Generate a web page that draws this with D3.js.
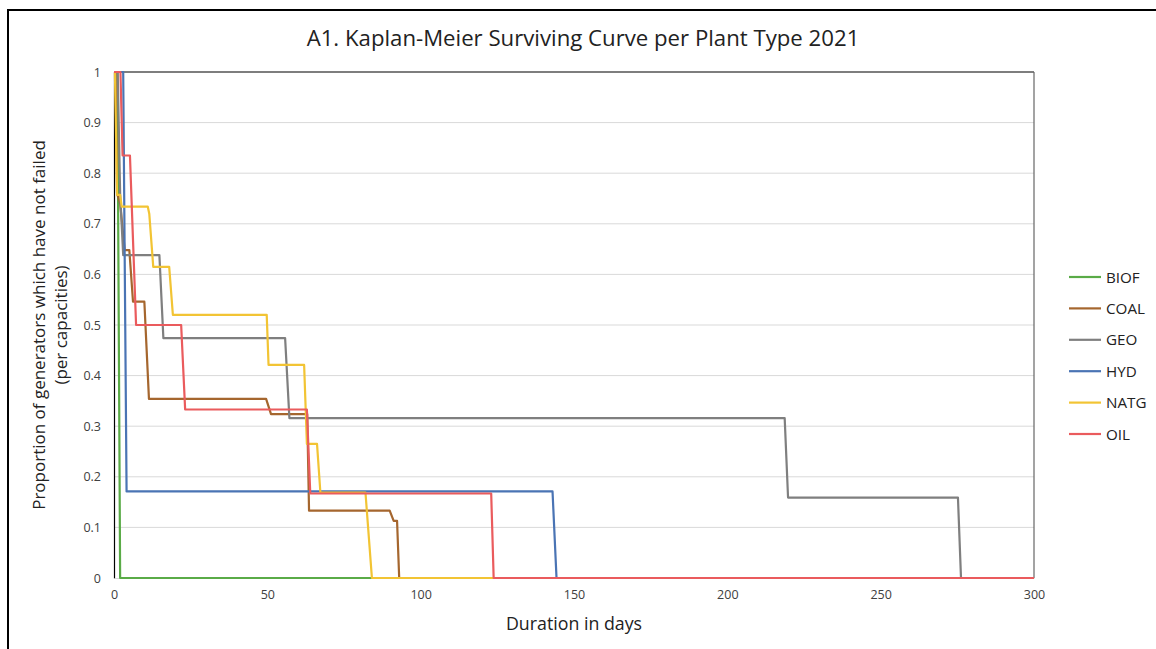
<!DOCTYPE html>
<html><head><meta charset="utf-8">
<script src="https://cdn.jsdelivr.net/npm/d3@7"></script>
<style>body{margin:0;background:#fff;}svg{display:block;font-family:"Open Sans",sans-serif;}</style>
</head><body>
<svg id="c" width="1156" height="649"></svg>
<script>
const title = "A1. Kaplan-Meier Surviving Curve per Plant Type 2021";
const xLabel = "Duration in days";
const yLabelLines = ["Proportion of generators which have not failed", "(per capacities)"];
const xTicks = [0, 50, 100, 150, 200, 250, 300];
const yTicks = [0, 0.1, 0.2, 0.3, 0.4, 0.5, 0.6, 0.7, 0.8, 0.9, 1];
const seriesNames = ["BIOF", "COAL", "GEO", "HYD", "NATG", "OIL"];
const seriesColors = ["#5aab47", "#a5662e", "#7f7f7f", "#4a74b4", "#f2c434", "#ea5b5d"];

// [day, proportion] pairs
const BIOF = [[0,1],[1.1,1],[2,0],[300,0]];
const COAL = [[0,1],[0.5,1],[1,0.76],[2,0.74],[3.5,0.648],[5,0.648],[6.2,0.546],[9.9,0.546],[11.4,0.354],[49.6,0.354],[51.2,0.324],[63,0.324],[63.6,0.133],[89.9,0.133],[91.2,0.113],[92.3,0.113],[93,0],[300,0]];
const GEO = [[0,1],[1.2,1],[2,0.76],[3,0.638],[14.8,0.638],[16.1,0.474],[55.8,0.474],[57.2,0.316],[218.7,0.316],[219.8,0.159],[275.2,0.159],[276.2,0],[300,0]];
const HYD = [[0,1],[3,1],[4.1,0.171],[143,0.171],[144.3,0],[300,0]];
const NATG = [[0,1],[0.3,1],[1,0.757],[2,0.757],[2.5,0.734],[11,0.734],[11.5,0.72],[12.8,0.615],[18,0.615],[19.2,0.52],[49.8,0.52],[50.4,0.421],[62,0.421],[62.9,0.265],[66.2,0.265],[67.3,0.169],[82,0.169],[84.1,0],[300,0]];
const OIL = [[0,1],[2.1,1],[2.8,0.835],[5.2,0.835],[7.2,0.5],[21.9,0.5],[23.2,0.333],[62.9,0.333],[64,0.167],[123,0.167],[123.8,0],[300,0]];
const seriesData = [BIOF, COAL, GEO, HYD, NATG, OIL];

const svg = d3.select("#c");
const pLeft = 114, pRight = 1034, pTop = 72, pBottom = 578;
const x = d3.scaleLinear().domain([0, 300]).range([pLeft, pRight]);
const y = d3.scaleLinear().domain([0, 1]).range([pBottom, pTop]);

// outer frame
svg.append("rect").attr("x", 8).attr("y", 10).attr("width", 1170).attr("height", 680)
  .attr("fill", "none").attr("stroke", "#000").attr("stroke-width", 2);

// title
svg.append("text").attr("x", 583).attr("y", 46).attr("text-anchor", "middle")
  .attr("font-size", 22.2).attr("fill", "#222").text(title);

// gridlines
svg.append("g").selectAll("line").data(yTicks.filter(d => d > 0)).join("line")
  .attr("x1", pLeft).attr("x2", pRight).attr("y1", d => y(d)).attr("y2", d => y(d))
  .attr("stroke", "#d9d9d9").attr("stroke-width", 1);

// plot border top/right
svg.append("line").attr("x1", pLeft).attr("x2", pRight).attr("y1", pTop).attr("y2", pTop).attr("stroke", "#111").attr("stroke-width", 1.2);
svg.append("line").attr("x1", pRight).attr("x2", pRight).attr("y1", pTop).attr("y2", pBottom).attr("stroke", "#666").attr("stroke-width", 1.2);

// axes
const yAxis = d3.axisLeft(y).tickValues(yTicks).tickSize(0).tickPadding(13).tickFormat(d => String(+d.toFixed(1)));
const gy = svg.append("g").attr("transform", `translate(${pLeft},0)`).call(yAxis);
gy.select(".domain").attr("stroke", "#000").attr("stroke-width", 1.2);
gy.selectAll("text").attr("font-size", 12.5).attr("fill", "#404040").attr("font-family", "Open Sans, sans-serif");

const xAxis = d3.axisBottom(x).tickValues(xTicks).tickSize(0).tickPadding(12);
const gx = svg.append("g").attr("transform", `translate(0,${pBottom})`).call(xAxis);
gx.select(".domain").attr("stroke", "#d9d9d9");
gx.selectAll("text").attr("font-size", 12.5).attr("fill", "#404040").attr("font-family", "Open Sans, sans-serif");

// lines
const line = d3.line().x(d => x(d[0])).y(d => y(d[1]));
svg.append("g").selectAll("path").data(seriesData).join("path")
  .attr("d", line).attr("fill", "none")
  .attr("stroke", (d, i) => seriesColors[i]).attr("stroke-width", 2.2)
  .attr("stroke-linejoin", "round");

// axis labels
svg.append("text").attr("x", 574).attr("y", 630).attr("text-anchor", "middle")
  .attr("font-size", 17.8).attr("fill", "#222").text(xLabel);
const yl = svg.append("text").attr("transform", "translate(45,325) rotate(-90)")
  .attr("text-anchor", "middle").attr("font-size", 17).attr("fill", "#222");
yLabelLines.forEach((t, i) => yl.append("tspan").attr("x", 0).attr("dy", i === 0 ? 0 : 22).text(t));

// legend
const lg = svg.append("g");
seriesNames.forEach((n, i) => {
  const ly = 277 + i * 31.4;
  lg.append("line").attr("x1", 1069).attr("x2", 1101).attr("y1", ly).attr("y2", ly)
    .attr("stroke", seriesColors[i]).attr("stroke-width", 2.2);
  lg.append("text").attr("x", 1106).attr("y", ly + 5.5).attr("font-size", 15.2).attr("fill", "#222").text(n);
});
</script>
</body></html>
